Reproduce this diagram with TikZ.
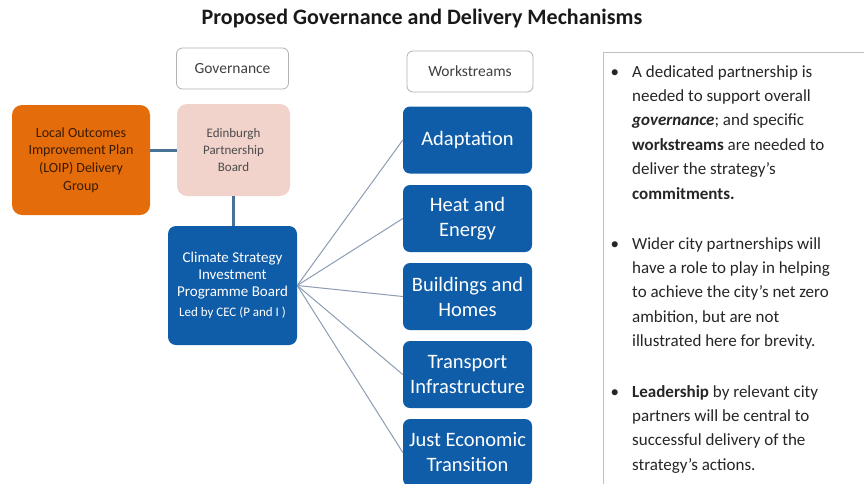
\documentclass[tikz,border=0pt]{standalone}
\usepackage{fontspec}
\setmainfont{Carlito}
\usetikzlibrary{positioning}

\definecolor{loiporange}{HTML}{E46C0A}
\definecolor{epbpink}{HTML}{F2D3CB}
\definecolor{wsblue}{HTML}{0F5CA8}
\definecolor{linkblue}{HTML}{4A7196}
\definecolor{fangrey}{HTML}{8C9DB5}

\newcommand{\bulletmark}{\llap{\textbullet\hspace{13pt}}}

\tikzset{
  labelbox/.style={draw=black!30, line width=0.8pt, rounded corners=6pt, fill=white,
    minimum width=112pt, minimum height=41pt, text=black!75, font=\fontsize{15.5}{18}\selectfont},
  wsbox/.style={fill=wsblue, rounded corners=7pt, minimum width=129pt, minimum height=67pt,
    align=center, text=white, font=\fontsize{20.5}{25}\selectfont},
  link/.style={draw=linkblue, line width=3pt},
  fanline/.style={draw=fangrey, line width=1pt},
  bullettext/.style={anchor=north west, inner sep=0pt, align=left, text=black!85,
    font=\fontsize{17}{24.4}\selectfont},
}

\begin{document}
\begin{tikzpicture}[x=1pt, y=-1pt]
\useasboundingbox (0,0) rectangle (864,483);
\fill[white] (0,0) rectangle (864,483);

\node[font=\bfseries\fontsize{22}{24}\selectfont, text=black!90] (title) at (422,19)
  {Proposed Governance and Delivery Mechanisms};

\node[labelbox] (gov) at (232.5,68.5) {Governance};
\node[labelbox, minimum width=126pt, minimum height=41pt] (ws) at (470,71.5) {Workstreams};

\node[fill=loiporange, rounded corners=10pt, minimum width=138pt, minimum height=110pt,
  align=center, text=black!75!loiporange, font=\fontsize{14}{17.7}\selectfont] (loip) at (81,160)
  {Local Outcomes\\Improvement Plan\\(LOIP) Delivery\\Group};
\node[fill=epbpink, rounded corners=10pt, minimum width=113pt, minimum height=92pt,
  align=center, text=black!70, font=\fontsize{13}{17}\selectfont] (epb) at (233.5,150)
  {Edinburgh\\Partnership\\Board};
\node[fill=wsblue, rounded corners=8pt, minimum width=129pt, minimum height=119pt,
  align=center, text=white, font=\fontsize{15}{17}\selectfont] (csb) at (232.5,285.5)
  {Climate Strategy\\Investment\\Programme Board\\[3pt]{\fontsize{13}{15}\selectfont Led by CEC (P and I )}};

\node[wsbox] (adapt) at (467.5,140) {Adaptation};
\node[wsbox] (heat) at (467.5,218.5) {Heat and\\Energy};
\node[wsbox] (build) at (467.5,296.5) {Buildings and\\Homes};
\node[wsbox] (trans) at (467.5,374.5) {Transport\\Infrastructure};
\node[wsbox] (just) at (467.5,452.5) {Just Economic\\Transition};

\draw[link] (loip.east |- epb.west) -- (epb.west);
\draw[link] (epb.south) -- (epb.south |- csb.north);

\draw[fanline] (csb.east) -- (adapt.west);
\draw[fanline] (csb.east) -- (heat.west);
\draw[fanline] (csb.east) -- (build.west);
\draw[fanline] (csb.east) -- (trans.west);
\draw[fanline] (csb.east) -- (just.west);

\node[draw=black!25, line width=0.8pt, anchor=north west, minimum width=280pt,
  minimum height=450pt] (notes) at (603,52) {};

\node[bullettext] (bulA) at (632,65) {\bulletmark A dedicated partnership is\\needed to support overall\\
  \textbf{\textit{governance}}; and specific\\\textbf{workstreams} are needed to\\
  deliver the strategy’s\\\textbf{commitments.}};
\node[bullettext] (bulB) at (632,237) {\bulletmark Wider city partnerships will\\have a role to play in helping\\
  to achieve the city’s net zero\\ambition, but are not\\illustrated here for brevity.};
\node[bullettext] (bulC) at (632,385) {\bulletmark\textbf{Leadership} by relevant city\\partners will be central to\\
  successful delivery of the\\strategy’s actions.};
\end{tikzpicture}
\end{document}
